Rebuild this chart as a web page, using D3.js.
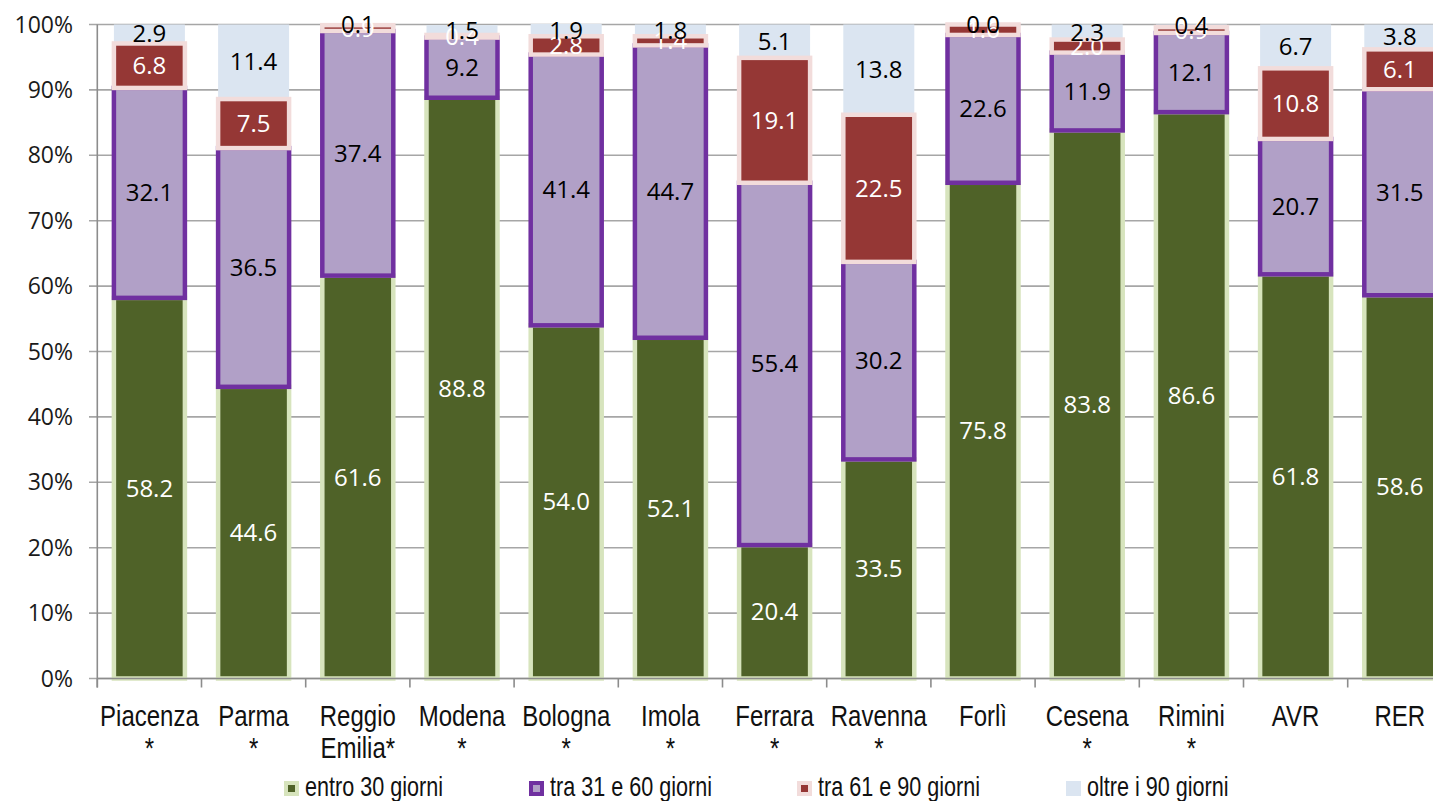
<!DOCTYPE html>
<html>
<head>
<meta charset="utf-8">
<script src="https://cdn.jsdelivr.net/npm/d3@7"></script>
<style>
  html, body { margin: 0; padding: 0; background: #fff; }
  svg { display: block; }
  .cat, .leg { font-family: "Liberation Sans", Arial, sans-serif; fill: #111; }
  .ytick { font-family: "Open Sans", "Noto Sans", sans-serif; fill: #1a1a1a; }
  .lab { font-family: "Open Sans", "Noto Sans", sans-serif; }
</style>
</head>
<body>
<svg id="chart" width="1433" height="801"></svg>
<script>
const categories = ["Piacenza\n*", "Parma\n*", "Reggio\nEmilia*", "Modena\n*", "Bologna\n*", "Imola\n*", "Ferrara\n*", "Ravenna\n*", "Forlì", "Cesena\n*", "Rimini\n*", "AVR", "RER"];
const seriesNames = ["entro 30 giorni", "tra 31 e 60 giorni", "tra 61 e 90 giorni", "oltre i 90 giorni"];
const entro30 = [58.2, 44.6, 61.6, 88.8, 54.0, 52.1, 20.4, 33.5, 75.8, 83.8, 86.6, 61.8, 58.6];
const tra31_60 = [32.1, 36.5, 37.4, 9.2, 41.4, 44.7, 55.4, 30.2, 22.6, 11.9, 12.1, 20.7, 31.5];
const tra61_90 = [6.8, 7.5, 0.9, 0.4, 2.8, 1.4, 19.1, 22.5, 1.6, 2.0, 0.9, 10.8, 6.1];
const oltre90 = [2.9, 11.4, 0.1, 1.5, 1.9, 1.8, 5.1, 13.8, 0.0, 2.3, 0.4, 6.7, 3.8];
const yTicks = [0, 10, 20, 30, 40, 50, 60, 70, 80, 90, 100];

const seriesValues = [entro30, tra31_60, tra61_90, oltre90];
const fills = ["#4f6228", "#b1a0c7", "#953735", "#dbe5f1"];
const strokes = ["#d7e4bd", "#7030a0", "#f2dcdb", "none"];
const labelColors = ["#ffffff", "#000000", "#ffffff", "#000000"];

const svg = d3.select("#chart");
const x0 = 97.3, bandW = 104.2;
const x = d3.scaleBand().domain(categories).range([x0, x0 + bandW * categories.length]).padding(0);
const y = d3.scaleLinear().domain([0, 100]).range([678.5, 24.5]);
const barW = 71;
const narrow = 0.8;

// gridlines
svg.append("g").selectAll("line").data(yTicks).join("line")
  .attr("x1", 89).attr("x2", 1433)
  .attr("y1", d => y(d)).attr("y2", d => y(d))
  .attr("stroke", "#a6a6a6").attr("stroke-width", 1.6);

// y tick labels
svg.append("g").selectAll("text").data(yTicks).join("text")
  .attr("class", "ytick")
  .attr("x", 73).attr("y", d => y(d) + 8)
  .attr("text-anchor", "end").attr("font-size", 23)
  .text(d => d + "%");

// stacked data
const rows = categories.map((c, i) => {
  const o = { cat: c };
  seriesNames.forEach((s, k) => o[s] = seriesValues[k][i]);
  return o;
});
const stack = d3.stack().keys(seriesNames)(rows);

// draw order: blue first, then green, purple, red
const order = [3, 0, 1, 2];
const barsG = svg.append("g");
order.forEach(k => {
  barsG.append("g").selectAll("rect").data(stack[k]).join("rect")
    .attr("x", d => x(d.data.cat) + bandW / 2 - barW / 2)
    .attr("width", barW)
    .attr("y", d => y(d[1]))
    .attr("height", d => Math.max(0, y(d[0]) - y(d[1])))
    .attr("fill", fills[k])
    .attr("stroke", strokes[k])
    .attr("stroke-width", strokes[k] === "none" ? 0 : 4.5);
});

// axes
svg.append("line").attr("x1", x0).attr("x2", x0).attr("y1", y(100)).attr("y2", y(0) + 9)
  .attr("stroke", "#8c8c8c").attr("stroke-width", 1.6);
svg.append("line").attr("x1", x0).attr("x2", 1433).attr("y1", y(0)).attr("y2", y(0))
  .attr("stroke", "#8c8c8c").attr("stroke-width", 1.6);
svg.append("g").selectAll("line").data(categories).join("line")
  .attr("x1", d => x(d)).attr("x2", d => x(d))
  .attr("y1", y(0)).attr("y2", y(0) + 9)
  .attr("stroke", "#8c8c8c").attr("stroke-width", 1.6);

// labels
const labG = svg.append("g");
[0, 1, 2, 3].forEach(k => {
  labG.append("g").selectAll("text").data(stack[k]).join("text")
    .attr("class", "lab")
    .attr("x", d => x(d.data.cat) + bandW / 2)
    .attr("y", d => (y(d[0]) + y(d[1])) / 2 + 8.5)
    .attr("text-anchor", "middle")
    .attr("font-size", 24)
    .attr("fill", labelColors[k])
    .text(d => d.data[seriesNames[k]].toFixed(1));
});

// category labels (horizontally condensed)
const catG = svg.append("g");
categories.forEach(c => {
  const lines = c.split("\n");
  const cx = x(c) + bandW / 2;
  lines.forEach((ln, i) => {
    catG.append("text").attr("class", "cat")
      .attr("transform", `translate(${cx},${726 + i * 32}) scale(${narrow},1)`)
      .attr("text-anchor", "middle").attr("font-size", 30)
      .text(ln);
  });
});

// legend
const legX = [284, 529, 797, 1066];
const legG = svg.append("g");
seriesNames.forEach((s, k) => {
  const g = legG.append("g").attr("transform", `translate(${legX[k]},0)`);
  if (strokes[k] !== "none") {
    g.append("rect").attr("x", 2).attr("y", 783).attr("width", 11).attr("height", 11)
      .attr("fill", fills[k]).attr("stroke", strokes[k]).attr("stroke-width", 4);
  } else {
    g.append("rect").attr("x", 0).attr("y", 781).attr("width", 15).attr("height", 15)
      .attr("fill", fills[k]);
  }
  g.append("text").attr("class", "leg")
    .attr("transform", `translate(21,796) scale(${narrow},1)`)
    .attr("font-size", 27).text(s);
});
</script>
</body>
</html>
